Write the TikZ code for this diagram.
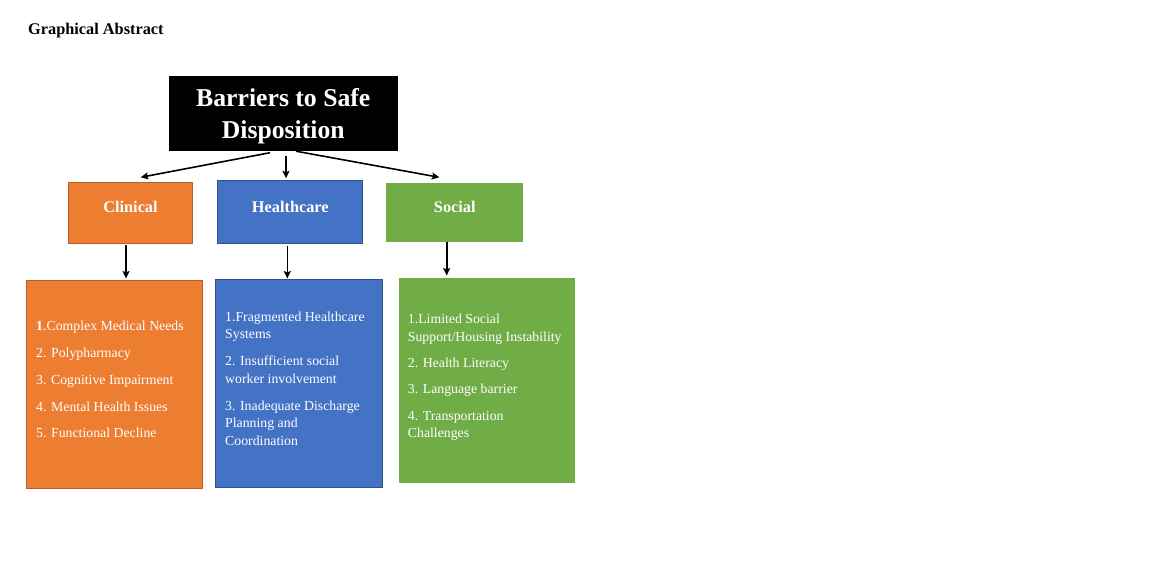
\documentclass[tikz,border=0pt]{standalone}
\usepackage{fontspec}
\setmainfont{Liberation Serif}
\usetikzlibrary{arrows.meta}
\definecolor{orangeF}{HTML}{ED7D31}
\definecolor{orangeD}{HTML}{B5602A}
\definecolor{blueF}{HTML}{4472C4}
\definecolor{blueD}{HTML}{2F528F}
\definecolor{greenF}{HTML}{70AD47}
\begin{document}
\begin{tikzpicture}[x=1pt,y=-1pt,
  box/.style={rectangle, inner sep=0pt, line width=0.9pt},
  catlabel/.style={anchor=base, inner sep=0pt, text=white, font=\fontsize{16.3pt}{19pt}\selectfont\bfseries},
  listtext/.style={anchor=north west, inner sep=0pt, text=white, align=left, font=\fontsize{13.8pt}{17.5pt}\selectfont},
  conn/.style={line width=1.6pt, -{Stealth[length=7.5pt,width=7pt,inset=1.5pt]}}]
\path[use as bounding box, fill=white] (0,0) rectangle (1152,576);

\node[anchor=base west, inner sep=0pt, font=\fontsize{16.3pt}{19pt}\selectfont\bfseries] (ga) at (28,34) {Graphical Abstract};

\node[box, fill=black, minimum width=228.7pt, minimum height=74.7pt, text=white, align=center, text depth=0pt,
  font=\fontsize{25.7pt}{32.7pt}\selectfont\bfseries] (title) at (283.3,113.4) {Barriers to Safe\\Disposition};

\node[box, draw=orangeD, fill=orangeF, minimum width=124.4pt, minimum height=61pt] (clinical) at (130.5,212.8) {};
\node[box, draw=blueD, fill=blueF, minimum width=145.7pt, minimum height=63pt] (health) at (289.85,211.8) {};
\node[box, fill=greenF, minimum width=137pt, minimum height=58.7pt] (social) at (454.5,212.35) {};

\node[catlabel] (clinicalL) at (130.5,212.7) {Clinical};
\node[catlabel] (healthL) at (290.3,212.7) {Healthcare};
\node[catlabel] (socialL) at (454.8,212.7) {Social};

\node[box, draw=orangeD, fill=orangeF, minimum width=176.7pt, minimum height=208.3pt] (clinicalList) at (114.35,384.15) {};
\node[box, draw=blueD, fill=blueF, minimum width=167.7pt, minimum height=208.3pt] (healthList) at (298.85,383.15) {};
\node[box, fill=greenF, minimum width=176pt, minimum height=205.3pt] (socialList) at (487,380.65) {};

\node[listtext] (clinicalItems) at (36,320.6) {\textbf{1}.Complex Medical Needs\\[9.4pt]
2. Polypharmacy\\[9.4pt]
3. Cognitive Impairment\\[9.4pt]
4. Mental Health Issues\\[9.4pt]
5. Functional Decline};

\node[listtext] (healthItems) at (225,311.6) {1.Fragmented Healthcare\\
Systems\\[9.5pt]
2. Insufficient social\\
worker involvement\\[9.5pt]
3. Inadequate Discharge\\
Planning and\\
Coordination};

\node[listtext] (socialItems) at (407.7,313.9) {1.Limited Social\\
Support/Housing Instability\\[8.5pt]
2. Health Literacy\\[9pt]
3. Language barrier\\[9pt]
4. Transportation\\
Challenges};

\coordinate (tipC) at (140.7,177.3);
\coordinate (tipH) at (286,178.3);
\coordinate (tipS) at (439.3,177.3);
\draw[conn] ([xshift=-13.3pt,yshift=-1.5pt]title.south) -- (tipC);
\draw[conn] ([xshift=2.7pt,yshift=-4.3pt]title.south) -- (tipH);
\draw[conn] ([xshift=12.7pt]title.south) -- (tipS);

\coordinate (tipCL) at (126,278.5);
\coordinate (tipHL) at (287.3,278.5);
\coordinate (tipSL) at (446.7,275.5);
\draw[conn] ([yshift=-1.5pt]clinical.south -| tipCL) -- (tipCL);
\draw[conn] ([yshift=-2.5pt]health.south -| tipHL) -- (tipHL);
\draw[conn] (social.south -| tipSL) -- (tipSL);
\end{tikzpicture}
\end{document}
